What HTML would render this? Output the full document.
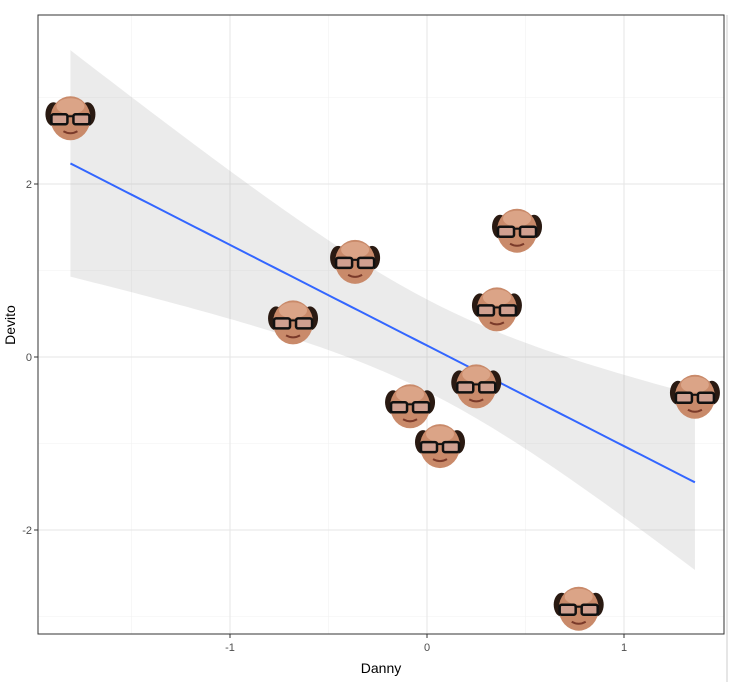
<!DOCTYPE html>
<html><head><meta charset="utf-8"><style>
body{margin:0;background:#fff;font-family:"Liberation Sans",sans-serif}
svg text{font-family:"Liberation Sans",sans-serif}
</style></head><body>
<svg id="chart" width="736" height="682" xmlns="http://www.w3.org/2000/svg">
<defs>
<g id="face">
<ellipse cx="-17" cy="-4" rx="8" ry="12" fill="#2a1a12"/>
<ellipse cx="17" cy="-4" rx="8" ry="12" fill="#2a1a12"/>
<ellipse cx="0" cy="0" rx="20" ry="22" fill="#c98a6a"/>
<ellipse cx="0" cy="-12" rx="14" ry="8" fill="#dba487"/>
<rect x="-19" y="-4" width="16" height="10" rx="2" fill="#d0a090" stroke="#111" stroke-width="2.5"/>
<rect x="3" y="-4" width="16" height="10" rx="2" fill="#d0a090" stroke="#111" stroke-width="2.5"/>
<line x1="-3" y1="-2" x2="3" y2="-2" stroke="#111" stroke-width="2"/>
<path d="M-7 13 Q0 17 7 13" stroke="#7a3a2a" stroke-width="2" fill="none"/>
</g>
</defs>
<g id="plot"></g>
<line x1="727" y1="15" x2="727" y2="682" stroke="#ccc"/>
<text x="381" y="673" font-size="14" text-anchor="middle" fill="#000">Danny</text>
<text transform="translate(15,325) rotate(-90)" font-size="14" text-anchor="middle" fill="#000">Devito</text>
</svg>
<script>
const xVals=[-1.81,-0.365,-0.68,0.457,0.355,0.25,-0.086,0.066,1.36,0.77];
const yVals=[2.76,1.10,0.40,1.46,0.55,-0.34,-0.57,-1.03,-0.46,-2.91];
const xTicks=[-1,0,1];
const yTicks=[-2,0,2];
const xMinor=[-1.5,-0.5,0.5];
const yMinor=[-3,-1,1,3];
const L=38,R=724,T=15,B=634;
const sx=v=>427+v*197, sy=v=>357-v*86.5;
const NS="http://www.w3.org/2000/svg";
const g=document.getElementById('plot');
function mk(t,a,parent){const e=document.createElementNS(NS,t);for(const k in a)e.setAttribute(k,a[k]);(parent||g).appendChild(e);return e;}
for(const v of xMinor){const e=mk('line',{x1:sx(v),x2:sx(v),y1:T,y2:B,stroke:'#f2f2f2','stroke-width':0.6});

}
for(const v of yMinor){const e=mk('line',{x1:L,x2:R,y1:sy(v),y2:sy(v),stroke:'#f2f2f2','stroke-width':0.6});

}
for(const v of xTicks){const e=mk('line',{x1:sx(v),x2:sx(v),y1:T,y2:B,stroke:'#e6e6e6','stroke-width':1});


const t=mk('text',{x:sx(v),y:B+17,'font-size':11,'text-anchor':'middle',fill:'#4d4d4d'});t.textContent=v;


mk('line',{x1:sx(v),x2:sx(v),y1:B,y2:B+4,stroke:'#333'});}
for(const v of yTicks){const e=mk('line',{x1:L,x2:R,y1:sy(v),y2:sy(v),stroke:'#e6e6e6','stroke-width':1});


const t=mk('text',{x:L-6,y:sy(v)+4,'font-size':11,'text-anchor':'end',fill:'#4d4d4d'});t.textContent=v;


mk('line',{x1:L-4,x2:L,y1:sy(v),y2:sy(v),stroke:'#333'});}
// regression
const n=xVals.length,mx=xVals.reduce((a,b)=>a+b)/n,my=yVals.reduce((a,b)=>a+b)/n;
let sxx=0,sxy=0;for(let i=0;i<n;i++){sxx+=(xVals[i]-mx)**2;sxy+=(xVals[i]-mx)*(yVals[i]-my);}
const b1=sxy/sxx,b0=my-b1*mx;let sse=0;for(let i=0;i<n;i++)sse+=(yVals[i]-b0-b1*xVals[i])**2;
const s=Math.sqrt(sse/(n-2)),tq=1.35;
const x0=Math.min(...xVals),x1=Math.max(...xVals);const up=[],lo=[],ln=[];
for(let k=0;k<=80;k++){const x=x0+(x1-x0)*k/80,f=b0+b1*x,se=s*Math.sqrt(1/n+(x-mx)**2/sxx);
up.push(sx(x)+','+sy(f+tq*se));lo.unshift(sx(x)+','+sy(f-tq*se));ln.push(sx(x)+','+sy(f));}
const band=mk('polygon',{points:up.concat(lo).join(' '),fill:'#999',opacity:0.2});


const line=mk('polyline',{points:ln.join(' '),fill:'none',stroke:'#3366FF','stroke-width':2});


for(let i=0;i<n;i++){const u=mk('use',{href:'#face',transform:`translate(${sx(xVals[i])},${sy(yVals[i])})`});

}
const bd=mk('rect',{x:L,y:T,width:R-L,height:B-T,fill:'none',stroke:'#333','stroke-width':1});


</script>
</body></html>
